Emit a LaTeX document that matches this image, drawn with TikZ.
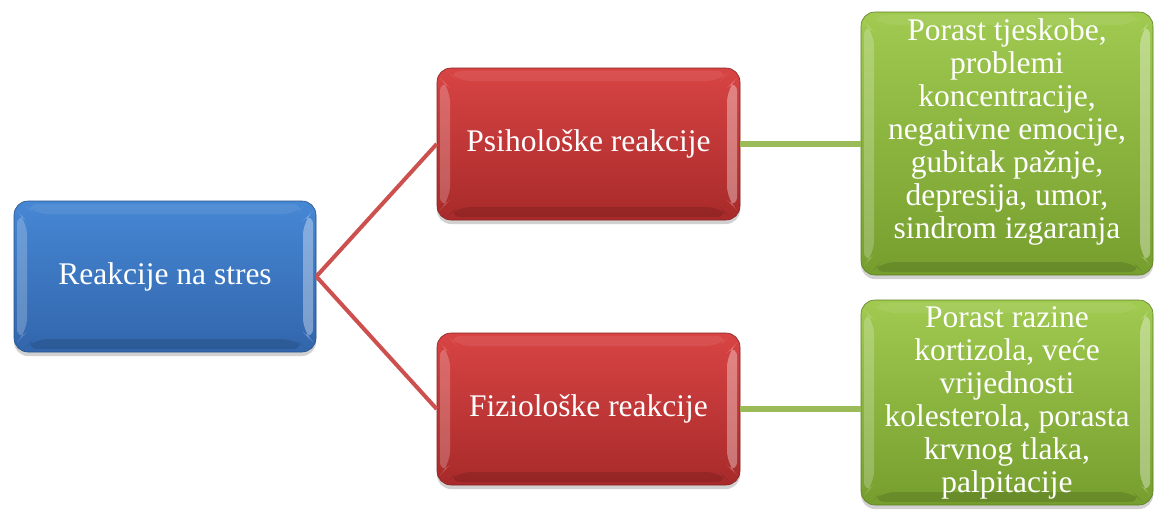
\documentclass[tikz,border=0pt]{standalone}
\usepackage{fontspec}
\setmainfont{Liberation Serif}
\usetikzlibrary{shadows}
\definecolor{blueT}{RGB}{70,135,212}
\definecolor{blueB}{RGB}{50,102,172}
\definecolor{redT}{RGB}{216,68,68}
\definecolor{redB}{RGB}{168,42,42}
\definecolor{greenT}{RGB}{160,202,80}
\definecolor{greenB}{RGB}{118,158,46}
\definecolor{redLine}{RGB}{204,80,77}
\definecolor{greenLine}{RGB}{155,187,89}
\tikzset{
  bevel/.style={path picture={
    \fill[white,opacity=0.22] ([shift={(3pt,-10pt)}]path picture bounding box.north west) -- ([shift={(13pt,-20pt)}]path picture bounding box.north west) -- ([shift={(13pt,20pt)}]path picture bounding box.south west) -- ([shift={(3pt,10pt)}]path picture bounding box.south west) -- cycle;
    \fill[white,opacity=0.35] ([shift={(-3pt,-10pt)}]path picture bounding box.north east) -- ([shift={(-13pt,-20pt)}]path picture bounding box.north east) -- ([shift={(-13pt,20pt)}]path picture bounding box.south east) -- ([shift={(-3pt,10pt)}]path picture bounding box.south east) -- cycle;
    \fill[white,opacity=0.08] ([shift={(10pt,-3pt)}]path picture bounding box.north west) -- ([shift={(-10pt,-3pt)}]path picture bounding box.north east) -- ([shift={(-20pt,-13pt)}]path picture bounding box.north east) -- ([shift={(20pt,-13pt)}]path picture bounding box.north west) -- cycle;
    \fill[black,opacity=0.12] ([shift={(10pt,3pt)}]path picture bounding box.south west) -- ([shift={(-10pt,3pt)}]path picture bounding box.south east) -- ([shift={(-20pt,13pt)}]path picture bounding box.south east) -- ([shift={(20pt,13pt)}]path picture bounding box.south west) -- cycle;
  }},
  box/.style={rounded corners=14pt, bevel, text=white, align=center, inner sep=0pt,
    font=\fontsize{31.5}{33}\selectfont,
    drop shadow={shadow xshift=0pt, shadow yshift=-4pt, opacity=0.3, fill=black!60}},
  bluebox/.style={box, top color=blueT, bottom color=blueB, draw=blueB!80!black, line width=0.6pt},
  redbox/.style={box, top color=redT, bottom color=redB, draw=redB!80!black, line width=0.6pt},
  greenbox/.style={box, top color=greenT, bottom color=greenB, draw=greenB!80!black, line width=0.6pt},
  redconn/.style={draw=redLine, line width=4pt},
  greenconn/.style={draw=greenLine, line width=6.5pt}
}
\begin{document}
\begin{tikzpicture}[x=1pt,y=-1pt]
\useasboundingbox (0,0) rectangle (1155,512);
\node[bluebox, minimum width=302pt, minimum height=151pt] (root) at (165,276.5) {Reakcije na stres};
\node[redbox, minimum width=303pt, minimum height=152pt] (psi) at (588.5,144) {Psihološke reakcije};
\node[redbox, minimum width=303pt, minimum height=152pt] (fiz) at (588.5,409) {Fiziološke reakcije};
\node[greenbox, minimum width=292pt, minimum height=263pt] (psiR) at (1007,143.5) {Porast tjeskobe,\\problemi\\koncentracije,\\negativne emocije,\\gubitak pažnje,\\depresija, umor,\\sindrom izgaranja\\[-4pt]};
\node[greenbox, minimum width=292pt, minimum height=205pt] (fizR) at (1007,402.5) {Porast razine\\kortizola, veće\\vrijednosti\\kolesterola, porasta\\krvnog tlaka,\\palpitacije};
\draw[redconn] (root.east) -- (psi.west);
\draw[redconn] (root.east) -- (fiz.west);
\draw[greenconn] (psi.east) -- (psi.east -| psiR.west);
\draw[greenconn] (fiz.east) -- (fiz.east -| fizR.west);
\end{tikzpicture}
\end{document}
